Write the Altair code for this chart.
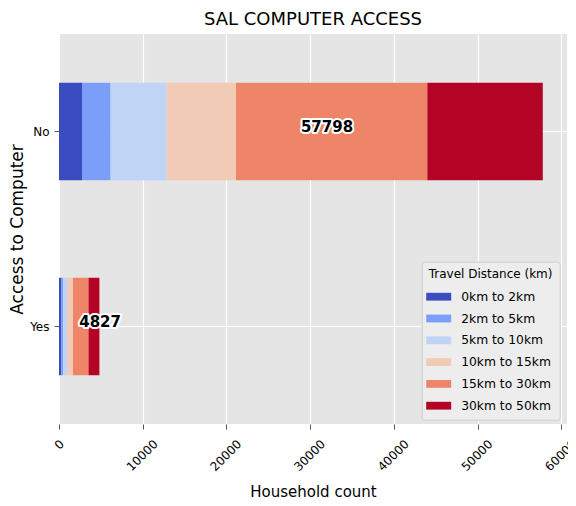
import altair as alt
import pandas as pd

access = ["No", "Yes"]
distances = ["0km to 2km", "2km to 5km", "5km to 10km", "10km to 15km",
             "15km to 30km", "30km to 50km"]
no_counts = [2748, 3417, 6690, 8292, 22855, 13796]
yes_counts = [250, 240, 480, 700, 1855, 1302]
colors = ["#3b4cc0", "#7b9ff9", "#c0d4f5", "#f2cbb7", "#ee8468", "#b40426"]
x_ticks = [0, 10000, 20000, 30000, 40000, 50000, 60000]

rows = []
for a, counts in zip(access, [no_counts, yes_counts]):
    for i, (d, c) in enumerate(zip(distances, counts)):
        rows.append({"access": a, "distance": d, "order": i, "count": c})
df = pd.DataFrame(rows)
totals = pd.DataFrame({"access": access,
                       "total": [sum(no_counts), sum(yes_counts)]})
totals["half"] = totals["total"] / 2

FONT = "DejaVu Sans"
x_max = sum(no_counts) * 1.05

x_axis = alt.Axis(
    values=x_ticks, format="d", title="Household count", labelAngle=-45,
    labelAlign="right", labelBaseline="top", labelPadding=9,
    labelOffset={"condition": {"test": "datum.value == 0", "value": -1}, "value": 9},
    tickSize=5, titleFontSize=15, titleY=72.2, titleBaseline="alphabetic",
    grid=True,
)
y_axis = alt.Axis(
    title="Access to Computer", grid=True, bandPosition=0.5,
    labelPadding=5, tickSize=5, titleFontSize=17, titleX=-36.5, titleY=195,
    titleAngle=-90, titleBaseline="alphabetic", titleAlign="center",
    labelAngle=0,
)
x_scale = alt.Scale(domain=[0, x_max], nice=False, zero=True)
y_scale = alt.Scale(paddingInner=0.5, paddingOuter=0.25)

bars = alt.Chart(df).mark_bar(strokeWidth=0).encode(
    y=alt.Y("access:N", sort=access, scale=y_scale, axis=y_axis),
    x=alt.X("count:Q", stack="zero", scale=x_scale, axis=x_axis),
    color=alt.Color(
        "distance:N",
        scale=alt.Scale(domain=distances, range=colors),
        legend=alt.Legend(
            title="Travel Distance (km)", orient="none",
            legendX=362.7, legendY=227.7, direction="vertical",
            fillColor="#EDEDED", strokeColor="#CFCFCF", cornerRadius=3,
            padding=7, titlePadding=6, rowPadding=4.8,
            titleFontSize=12, titleFontWeight="normal", titleColor="black",
            titleFont=FONT, labelFont=FONT, labelFontSize=12.3,
            labelColor="black", labelOffset=12.5,
            symbolType="M-1.25,-0.39L1.25,-0.39L1.25,0.39L-1.25,0.39Z",
            symbolSize=400, symbolStrokeWidth=0, symbolOpacity=1,
        ),
    ),
    order=alt.Order("order:Q"),
)

halo = alt.Chart(totals).mark_text(
    align="left", baseline="alphabetic", font=FONT, fontSize=15,
    fontWeight="bold", stroke="white", strokeWidth=4, strokeJoin="round",
    fill="white",
).encode(
    y=alt.Y("access:N", sort=access, scale=y_scale, title="Access to Computer"),
    x=alt.X("half:Q", scale=x_scale, title="Household count"),
    text=alt.Text("total:Q", format="d"),
)
label = alt.Chart(totals).mark_text(
    align="left", baseline="alphabetic", font=FONT, fontSize=15,
    fontWeight="bold", color="black",
).encode(
    y=alt.Y("access:N", sort=access, scale=y_scale, title="Access to Computer"),
    x=alt.X("half:Q", scale=x_scale, title="Household count"),
    text=alt.Text("total:Q", format="d"),
)

chart = alt.layer(bars, halo, label).properties(
    width=508, height=390,
    title=alt.TitleParams("SAL COMPUTER ACCESS", fontSize=18, font=FONT,
                          fontWeight="normal", color="black", anchor="middle",
                          offset=4.7),
    autosize=alt.AutoSizeParams(type="none"),
    padding={"left": 51, "top": 26, "right": 1, "bottom": 74},
).configure_view(
    fill="#E5E5E5", strokeWidth=0,
).configure_axis(
    domain=False, gridColor="white", gridWidth=1.2, tickColor="#555555",
    labelColor="black", labelFont=FONT, labelFontSize=12, titleFont=FONT,
    titleColor="black", titleFontWeight="normal",
)

chart.save("out.html", embed_options={"renderer": "svg", "actions": False})
